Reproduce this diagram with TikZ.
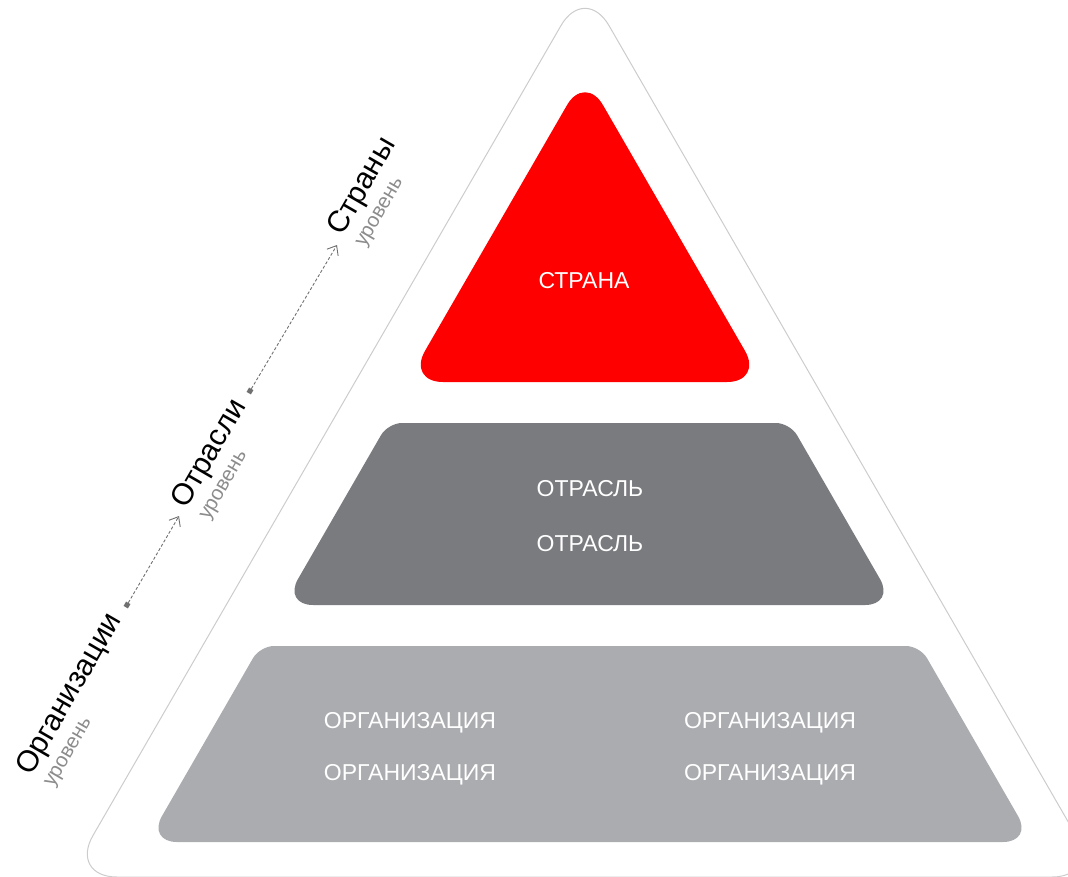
\documentclass[tikz,border=0pt]{standalone}
\usepackage{fontspec}
\setmainfont{Liberation Sans}
\usetikzlibrary{arrows.meta, calc}

\definecolor{outline}{HTML}{CCCCCC}
\definecolor{stranared}{HTML}{FF0000}
\definecolor{otraslgray}{HTML}{7A7B7F}
\definecolor{orggray}{HTML}{ABACB0}
\definecolor{subgray}{HTML}{8C8C8C}
\definecolor{dotgray}{HTML}{707070}

\begin{document}
\begin{tikzpicture}[x=1pt, y=-1pt]
\tikzset{
  bandtext/.style={text=white, inner sep=0pt, anchor=base, font=\fontsize{23}{23}\selectfont},
  levelname/.style={inner sep=0pt, anchor=base west, rotate=60, font=\fontsize{30}{30}\selectfont},
  levelsub/.style={text=subgray, inner sep=0pt, anchor=base west, rotate=60, font=\fontsize{20.5}{20.5}\selectfont},
  levelarrow/.style={dotgray, line width=0.9pt, dash pattern=on 3pt off 2pt, -{Straight Barb[length=8pt,width=13pt]}},
  leveldot/.style={fill=dotgray, inner sep=0pt, minimum size=5pt, rotate=60}
}

\useasboundingbox (0,0) rectangle (1068,876);
\clip (0,0) rectangle (1068,876);

\coordinate (A) at (585,-16);
\coordinate (B) at (1100,877);
\coordinate (C) at (69,877);
\coordinate (AC) at (327,430.5);

\coordinate (t1) at (179,516);
\coordinate (t2) at (337,245);

% outer triangle
\draw[outline, line width=1pt, rounded corners=48] (AC) -- (A) -- (B) -- (C) -- cycle;

% bands
\fill[stranared, rounded corners=36] (585,382) -- (407,382) -- (585,74) -- (763,382) -- cycle;
\fill[otraslgray] (589,605) [rounded corners=30] -- (283,605) [rounded corners=14] -- (388,423) -- (790,423) [rounded corners=30] -- (895,605) -- cycle;
\fill[orggray] (590,842) [rounded corners=30] -- (147,842) [rounded corners=14] -- (260,646) -- (920,646) [rounded corners=30] -- (1033,842) -- cycle;

\node[bandtext] (strana) at (584,288) {СТРАНА};
\node[bandtext] (otrasl1) at (590,496) {ОТРАСЛЬ};
\node[bandtext] (otrasl2) at (590,551) {ОТРАСЛЬ};
\node[bandtext] (org1) at (410,728) {ОРГАНИЗАЦИЯ};
\node[bandtext] (org2) at (410,780) {ОРГАНИЗАЦИЯ};
\node[bandtext] (org3) at (770,728) {ОРГАНИЗАЦИЯ};
\node[bandtext] (org4) at (770,780) {ОРГАНИЗАЦИЯ};

% levels
\node[leveldot] (d1) at (127,605) {};
\node[leveldot] (d2) at (250,391) {};
\draw[levelarrow] (d1) -- (t1);
\draw[levelarrow] (d2) -- (t2);

\node[levelname] (orgname) at (31,777) {Организации};
\node[levelsub] (orgsub) at ($(orgname.base west)+(22,11)$) {уровень};
\node[levelname] (otraslname) at (186.5,510) {Отрасли};
\node[levelsub] (otraslsub) at ($(otraslname.base west)+(22,11)$) {уровень};
\node[levelname] (stranyname) at (342.5,237) {Страны};
\node[levelsub] (stranysub) at ($(stranyname.base west)+(22,11)$) {уровень};
\end{tikzpicture}
\end{document}
